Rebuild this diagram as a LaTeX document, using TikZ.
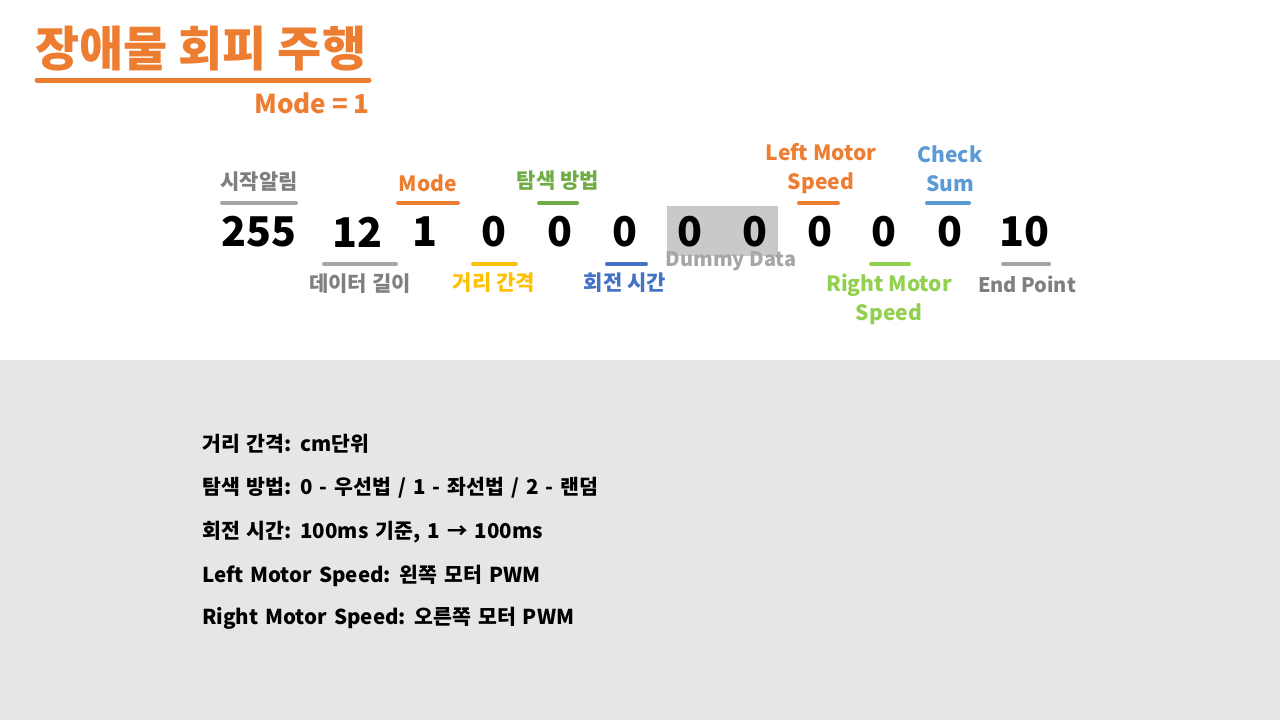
\documentclass[tikz,border=0pt]{standalone}
\usepackage{fontspec}
\setmainfont{Noto Sans CJK KR}
\newfontfamily\bodyfont{Noto Sans CJK KR}[WordSpace=1.5]
\definecolor{orng}{HTML}{ED7D31}
\definecolor{grytxt}{HTML}{7F7F7F}
\definecolor{grybar}{HTML}{A5A5A5}
\definecolor{grn}{HTML}{70AD47}
\definecolor{lgrn}{HTML}{92D050}
\definecolor{yel}{HTML}{FFC000}
\definecolor{blu}{HTML}{4472C4}
\definecolor{lblu}{HTML}{5B9BD5}
\definecolor{bgg}{HTML}{E6E6E6}
\definecolor{dum}{HTML}{C9C9C9}
\definecolor{dumtxt}{HTML}{A6A6A6}
\begin{document}
\begin{tikzpicture}[x=1pt,y=-1pt,
  num/.style={font=\fontsize{41}{46}\selectfont\bfseries, text=black, inner sep=0pt},
  lbl/.style={font=\fontsize{21}{29}\selectfont\bfseries, inner sep=0pt, align=center},
  bar/.style={line width=4pt, line cap=round},
  body/.style={font=\bodyfont\fontsize{20.5}{24}\selectfont\bfseries, inner sep=0pt, anchor=west, text=black}]
\useasboundingbox (0,0) rectangle (1280,720);
\fill[white] (0,0) rectangle (1280,360);
\fill[bgg] (0,360) rectangle (1280,720);
% title
\node[font=\fontsize{48}{52}\selectfont\bfseries, text=orng, anchor=west, inner sep=0pt] (title) at (35,49) {장애물 회피 주행};
\draw[orng, line width=5pt, line cap=round] (37,80) -- (369,80);
\node[font=\fontsize{26}{30}\selectfont\bfseries, text=orng, anchor=east, inner sep=0pt] (mode1) at (370,103) {Mode = 1};
% dummy box
\fill[dum] (667,206) rectangle (778,256);
% numbers
\node[num] (n1) at (259,232) {255};
\node[num] (n2) at (357,232) {12};
\node[num] (n3) at (425,232) {1};
\node[num] (n4) at (494,232) {0};
\node[num] (n5) at (560,232) {0};
\node[num] (n6) at (625,232) {0};
\node[num] (n7) at (690,232) {0};
\node[num] (n8) at (755,232) {0};
\node[num] (n9) at (820,232) {0};
\node[num] (n10) at (884,232) {0};
\node[num] (n11) at (950,232) {0};
\node[num] (n12) at (1024,232) {10};
\node[lbl, text=dumtxt, font=\fontsize{20}{24}\selectfont\bfseries] (dd) at (731,261) {Dummy Data};
% top labels
\node[lbl, text=grytxt] (t1) at (259,182) {시작알림};
\draw[bar, grybar] (222,203) -- (296,203);
\node[lbl, text=orng] (t3) at (428,183) {Mode};
\draw[bar, orng] (398,203) -- (458,203);
\node[lbl, text=grn] (t5) at (558,181) {탐색 방법};
\draw[bar, grn] (539,203) -- (577,203);
\node[lbl, text=orng] (t9) at (821,169) {Left Motor\\Speed};
\draw[bar, orng] (799,203) -- (838,203);
\node[lbl, text=lblu] (t11) at (950,169) {Check\\Sum};
\draw[bar, lblu] (927,203) -- (969,203);
% bottom labels
\draw[bar, grybar] (324,264) -- (396,264);
\node[lbl, text=grytxt] (b2) at (360,284) {데이터 길이};
\draw[bar, yel] (473,264) -- (516,264);
\node[lbl, text=yel] (b4) at (494,283) {거리 간격};
\draw[bar, blu] (607,264) -- (646,264);
\node[lbl, text=blu] (b6) at (625,283) {회전 시간};
\draw[bar, lgrn] (871,264) -- (909,264);
\node[lbl, text=lgrn] (b10) at (889,299) {Right Motor\\Speed};
\draw[bar, grybar] (1003,264) -- (1049,264);
\node[lbl, text=grytxt, font=\fontsize{20}{24}\selectfont\bfseries] (b12) at (1027,284) {End Point};
% body text
\node[body] (l1) at (202,444) {거리 간격: cm단위};
\node[body] (l2) at (202,488) {탐색 방법: 0 - 우선법 / 1 - 좌선법 / 2 - 랜덤};
\node[body] (l3) at (202,532) {회전 시간: 100ms 기준, 1 → 100ms};
\node[body] (l4) at (202,576) {Left Motor Speed: 왼쪽 모터 PWM};
\node[body] (l5) at (202,618) {Right Motor Speed: 오른쪽 모터 PWM};
\end{tikzpicture}
\end{document}
